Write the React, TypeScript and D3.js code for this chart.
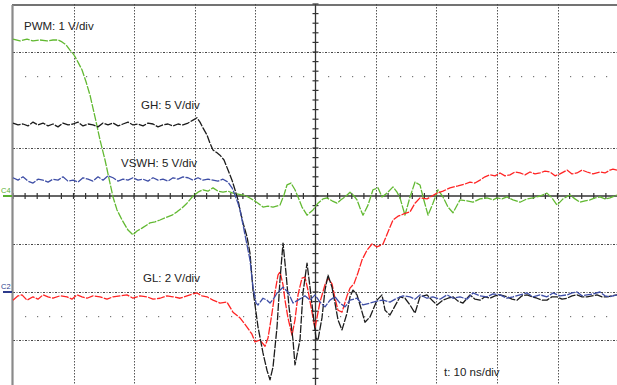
import React from 'react';
import * as d3 from 'd3';

const W = 617;
const H = 385;

// time in ns (10 ns/div), value in screen divisions from centre line
const pwmT = [0,1.16,2.31,3.31,4.46,5.62,6.61,7.44,8.10,8.76,9.42,10.08,10.74,11.40,12.07,12.73,13.55,14.38,15.21,16.03,16.53,17.19,18.02,19.01,19.83,20.50,21.32,22.64,23.47,24.30,25.45,26.28,27.11,27.93,28.76,29.75,30.58,31.40,32.23,33.06,33.88,34.71,35.54,36.36,37.19,38.02,38.84,39.67,40.50,41.32,42.15,42.98,44.13,44.79,45.29,45.95,46.61,47.11,47.77,48.60,49.59,50.41,51.24,51.90,52.73,53.55,54.21,54.88,55.70,56.36,56.86,57.36,57.85,58.68,59.50,60.33,60.99,61.82,62.81,63.47,63.97,64.79,65.62,66.45,67.27,67.77,68.60,69.42,70.25,71.07,71.90,72.73,73.88,75.04,76.03,77.19,78.35,79.34,80.00,80.83,81.65,82.64,83.80,84.96,85.95,87.11,88.26,89.09,89.92,90.91,92.07,92.89,93.72,94.55,95.37,96.20,97.02,97.85,98.68,99.83];
const pwmV = [3.27,3.23,3.27,3.23,3.25,3.23,3.25,3.25,3.21,3.15,3.04,2.94,2.79,2.63,2.38,2.10,1.65,1.17,0.75,0.27,-0.02,-0.29,-0.50,-0.71,-0.81,-0.73,-0.67,-0.56,-0.54,-0.50,-0.44,-0.40,-0.33,-0.25,-0.15,0,0.08,0.13,0.10,0.17,0.10,0.08,0.10,0.06,0.04,0.02,-0.02,-0.08,-0.15,-0.23,-0.21,-0.23,-0.19,0.02,0.23,0.27,0.13,-0.02,-0.23,-0.40,-0.29,-0.15,-0.06,-0.04,-0.10,-0.15,-0.08,-0.02,0.08,0,-0.08,-0.25,-0.40,-0.19,0.13,0.17,-0.02,0.06,0.19,0.08,-0.04,-0.40,-0.02,0.29,0.23,-0.02,-0.40,-0.15,0.13,-0.02,-0.23,-0.35,-0.08,-0.10,-0.13,-0.06,-0.04,-0.08,-0.04,-0.06,-0.02,-0.08,-0.13,-0.06,-0.04,0,0.06,-0.04,-0.19,-0.06,0.02,-0.06,-0.13,-0.10,-0.08,-0.04,-0.02,-0.06,-0.04,0.02];

const ghT = [0,0.83,1.65,2.48,3.31,4.13,4.96,5.79,6.61,7.44,8.26,9.09,9.92,10.74,11.57,12.40,13.22,14.05,14.88,15.70,16.53,17.36,18.18,19.01,19.83,20.66,21.49,22.31,23.14,23.97,24.79,25.62,26.45,27.27,28.10,28.93,29.75,30.41,30.91,31.40,32.07,32.56,33.06,33.72,34.21,34.88,35.54,36.20,36.69,37.19,37.52,38.02,38.68,39.17,39.67,40.50,41.32,41.98,42.48,42.98,43.64,44.13,44.63,45.12,45.62,46.28,46.61,47.44,47.93,48.60,49.09,49.59,50.08,50.41,51.07,51.57,52.07,52.73,53.22,53.72,54.38,55.21,55.70,56.20,56.86,57.36,58.18,59.01,60.17,60.99,61.49,62.31,63.14,63.97,64.79,65.62,66.45,67.27,68.43,69.26,70.08,71.07,71.90,72.73,73.55,74.38,75.54,76.36,77.19,78.02,78.84,79.67,80.50,81.65,82.48,83.31,84.13,84.96,85.79,86.61,87.44,88.26,89.09,89.92,90.74,91.57,92.40,93.22,94.05,94.88,95.70,96.53,97.36,98.18,99.01,99.83];
const ghV = [1.52,1.48,1.50,1.46,1.54,1.48,1.52,1.46,1.50,1.44,1.52,1.48,1.50,1.54,1.46,1.50,1.48,1.44,1.52,1.48,1.52,1.46,1.50,1.54,1.48,1.50,1.46,1.52,1.50,1.44,1.48,1.50,1.46,1.50,1.48,1.52,1.58,1.63,1.54,1.42,1.27,1.10,0.96,0.90,0.85,0.75,0.54,0.33,0.13,-0.08,-0.29,-0.56,-0.85,-1.19,-1.96,-2.73,-3.27,-3.63,-3.83,-3.56,-2.73,-1.75,-0.98,-1.60,-2.31,-3.00,-3.52,-3.00,-2.02,-1.40,-1.90,-2.44,-2.96,-3.00,-2.54,-1.96,-1.65,-1.90,-2.23,-2.58,-2.79,-2.44,-2.10,-1.96,-2.06,-2.27,-2.63,-2.52,-2.17,-2.06,-2.38,-2.48,-2.29,-2.10,-2.13,-2.27,-2.44,-2.10,-2.06,-2.17,-2.27,-2.17,-2.13,-2.10,-2.19,-2.23,-2.06,-2.15,-2.17,-2.10,-2.13,-2.08,-2.06,-2.10,-2.15,-2.17,-2.08,-2.06,-2.10,-2.13,-2.17,-2.17,-2.10,-2.10,-2.15,-2.13,-2.08,-2.06,-2.10,-2.10,-2.08,-2.06,-2.10,-2.10,-2.08,-2.06];

const vswhT = [0,0.83,1.65,2.48,3.31,4.13,4.96,5.79,6.61,7.44,8.26,9.09,9.92,10.74,11.57,12.40,13.22,14.05,14.88,15.70,16.53,17.36,18.18,19.01,19.83,20.66,21.49,22.31,23.14,23.97,24.79,25.62,26.45,27.27,28.10,28.93,29.75,30.58,31.40,32.23,33.06,33.88,34.71,35.54,36.20,36.69,37.19,37.52,38.02,38.35,38.68,39.17,39.67,40.17,40.50,41.32,41.98,42.48,43.14,43.64,44.63,45.45,46.28,47.11,48.26,49.09,49.92,50.74,51.57,52.40,53.22,54.05,54.88,55.70,56.86,57.85,59.01,60.17,61.16,62.31,63.47,64.46,65.62,66.45,67.27,68.43,69.42,70.58,71.74,72.73,73.88,75.04,76.03,77.19,78.35,79.34,80.50,81.65,82.64,83.80,84.96,85.95,87.11,88.26,89.26,90.41,91.57,92.40,93.22,94.05,94.88,95.87,97.02,97.85,98.68,99.83];
const vswhV = [0.38,0.33,0.40,0.31,0.27,0.35,0.33,0.29,0.35,0.33,0.40,0.31,0.33,0.29,0.38,0.35,0.31,0.40,0.33,0.42,0.38,0.31,0.35,0.33,0.38,0.33,0.35,0.31,0.38,0.33,0.35,0.31,0.38,0.35,0.40,0.38,0.33,0.38,0.33,0.35,0.33,0.31,0.35,0.29,0.17,0.02,-0.15,-0.29,-0.60,-0.81,-1.02,-1.33,-1.90,-2.23,-2.27,-2.13,-2.17,-2.23,-2.13,-2.02,-1.90,-2.00,-2.23,-2.17,-2.08,-2.17,-2.06,-2.21,-2.31,-2.17,-2.10,-2.23,-2.31,-2.17,-2.13,-2.27,-2.23,-2.19,-2.17,-2.21,-2.13,-2.08,-2.10,-2.15,-2.06,-2.13,-2.10,-2.15,-2.06,-2.13,-2.10,-2.15,-2.02,-2.08,-2.10,-2.04,-2.06,-2.13,-2.10,-2.06,-2.02,-2.10,-2.06,-2.10,-2.02,-2.08,-2.06,-2.02,-2.00,-2.08,-2.06,-2.04,-2.00,-2.08,-2.10,-2.06];

const glT = [0,0.83,1.49,2.31,3.31,4.13,4.96,5.79,6.61,7.77,8.93,9.75,10.58,11.40,12.23,13.22,14.38,15.54,16.53,17.69,18.84,19.83,20.99,22.15,23.14,24.30,25.45,26.45,27.60,28.76,29.75,30.41,31.24,32.07,33.06,34.21,35.37,36.36,37.52,38.68,39.50,40.00,40.83,41.65,42.15,42.81,43.31,43.80,44.13,44.63,44.96,45.45,46.12,46.61,47.11,47.77,48.26,48.76,49.42,49.92,50.74,51.57,52.07,52.73,53.22,53.72,54.38,55.21,55.70,56.36,57.02,57.69,58.51,59.34,60.17,61.16,61.98,62.81,63.64,64.46,65.62,66.45,67.27,68.43,69.26,70.08,71.07,72.23,73.55,74.71,75.54,76.36,77.19,78.02,78.84,79.67,80.50,81.32,82.15,82.98,83.80,84.63,85.45,86.28,87.11,87.93,88.76,89.59,90.41,91.57,92.40,93.22,94.05,94.88,95.87,97.02,97.85,98.68,99.17,99.83];
const glV = [-2.17,-2.08,-2.06,-2.17,-2.10,-2.15,-2.06,-2.10,-2.13,-2.08,-2.10,-2.15,-2.06,-2.10,-2.13,-2.08,-2.10,-2.15,-2.10,-2.08,-2.06,-2.13,-2.08,-2.10,-2.15,-2.13,-2.08,-2.10,-2.13,-2.08,-2.04,-2.02,-2.08,-2.10,-2.17,-2.23,-2.21,-2.42,-2.54,-2.73,-2.88,-3.04,-3.00,-3.13,-2.96,-2.44,-2.00,-1.65,-1.58,-1.85,-2.17,-2.54,-2.90,-2.58,-2.06,-1.71,-1.69,-1.96,-2.42,-2.75,-2.21,-1.85,-1.71,-1.83,-2.13,-2.38,-2.42,-2.08,-1.92,-1.83,-1.60,-1.33,-1.13,-1.00,-1.06,-1.00,-0.75,-0.50,-0.42,-0.38,-0.33,-0.15,-0.04,-0.06,0,0.06,0.10,0.17,0.21,0.25,0.29,0.27,0.33,0.40,0.44,0.42,0.48,0.42,0.44,0.50,0.48,0.44,0.50,0.46,0.48,0.52,0.50,0.42,0.46,0.54,0.46,0.48,0.54,0.50,0.46,0.50,0.48,0.54,0.56,0.54];

const channelNames = ['PWM: 1 V/div', 'GH: 5 V/div', 'VSWH: 5 V/div', 'GL: 2 V/div'];
const timeLabel = 't: 10 ns/div';
const markerLabels = ['C4', 'C2'];

const vGridDivs = [10, 20, 30, 40, 60, 70, 80, 90];
const hGridDivs = [3, 1, -1, -2, -3];
const sparseRows = [2.5, -2.5];

export default function App() {
  const x = d3.scaleLinear().domain([0, 100]).range([13, 618]);
  const y = d3.scaleLinear().domain([-4, 4]).range([388, 4]);
  const line = d3
    .line<[number, number]>()
    .x((d) => x(d[0]))
    .y((d) => y(d[1]))
    .curve(d3.curveLinear);
  const mk = (T: number[], V: number[]) => T.map((t, i) => [t, V[i]] as [number, number]);

  const traces = [
    { d: mk(pwmT, pwmV), color: '#62b932' },
    { d: mk(glT, glV), color: '#ff2424' },
    { d: mk(ghT, ghV), color: '#1c1c1c' },
    { d: mk(vswhT, vswhV), color: '#3e4ea6' },
  ];

  const xTicks = d3.range(0, 100.01, 2); // minor ticks, 1/5 div
  const yTicks = d3.range(-4, 4.01, 0.2);
  const dotXs = d3.range(2, 100, 2).filter((t) => t % 10 !== 0);
  const font = '"Liberation Sans", Arial, Helvetica, sans-serif';
  const cx = x(50);
  const cy = y(0);

  return (
    <svg
      width={W}
      height={H}
      style={{ position: 'absolute', left: 0, top: 0, background: '#fff' }}
    >
      <rect x={0} y={0} width={W} height={H} fill="#fff" />
      {vGridDivs.map((t) => (
        <line
          key={'vg' + t}
          x1={Math.round(x(t)) + 0.5}
          x2={Math.round(x(t)) + 0.5}
          y1={y(4)}
          y2={y(-4)}
          stroke="#555"
          strokeWidth={1}
          strokeDasharray="1.5 1.5"
        />
      ))}
      {hGridDivs.map((v) => (
        <line
          key={'hg' + v}
          x1={x(0)}
          x2={x(100)}
          y1={Math.round(y(v)) + 0.5}
          y2={Math.round(y(v)) + 0.5}
          stroke="#444"
          strokeWidth={1}
          strokeDasharray="2 1.5 1 1.5"
        />
      ))}
      {sparseRows.map((v) =>
        dotXs.map((t) => (
          <rect
            key={'sd' + v + '_' + t}
            x={Math.round(x(t))}
            y={Math.round(y(v))}
            width={1.2}
            height={1.2}
            fill="#777"
          />
        ))
      )}
      {/* centre axes */}
      <line x1={x(0)} x2={x(100)} y1={cy} y2={cy} stroke="#333" strokeWidth={1.3} />
      <line x1={cx} x2={cx} y1={y(4)} y2={y(-4)} stroke="#333" strokeWidth={1.3} />
      {xTicks.map((t) => (
        <line key={'xt' + t} x1={x(t)} x2={x(t)} y1={cy - 3} y2={cy + 3} stroke="#333" strokeWidth={1.2} />
      ))}
      {yTicks.map((v) => (
        <line key={'yt' + v.toFixed(1)} x1={cx - 3} x2={cx + 3} y1={y(v)} y2={y(v)} stroke="#333" strokeWidth={1.2} />
      ))}
      {/* frame */}
      <line x1={12} x2={W} y1={5} y2={5} stroke="#444" strokeWidth={1.5} />
      <line x1={12.5} x2={12.5} y1={5} y2={H} stroke="#8a8a8a" strokeWidth={2.2} />

      {/* traces */}
      {traces.map((tr, i) => (
        <path
          key={'tr' + i}
          d={line(tr.d) || ''}
          fill="none"
          stroke={tr.color}
          strokeWidth={1.3}
          strokeDasharray="8 1.3"
          strokeLinejoin="round"
        />
      ))}

      {/* channel markers */}
      <text x={1} y={193} fontFamily={font} fontSize={7.5} fill="#58b030">{markerLabels[0]}</text>
      <line x1={3} x2={12} y1={196} y2={196} stroke="#58b030" strokeWidth={2} />
      <text x={1} y={289} fontFamily={font} fontSize={7.5} fill="#2d3b8c">{markerLabels[1]}</text>
      <line x1={3} x2={12} y1={292} y2={292} stroke="#2d3b8c" strokeWidth={2} />

      {/* labels */}
      <g fontFamily={font} fontSize={11.5} fill="#222">
        <text x={24} y={30}>{channelNames[0]}</text>
        <text x={141} y={109}>{channelNames[1]}</text>
        <text x={121} y={167}>{channelNames[2]}</text>
        <text x={143} y={282}>{channelNames[3]}</text>
        <text x={444} y={376}>{timeLabel}</text>
      </g>
    </svg>
  );
}
